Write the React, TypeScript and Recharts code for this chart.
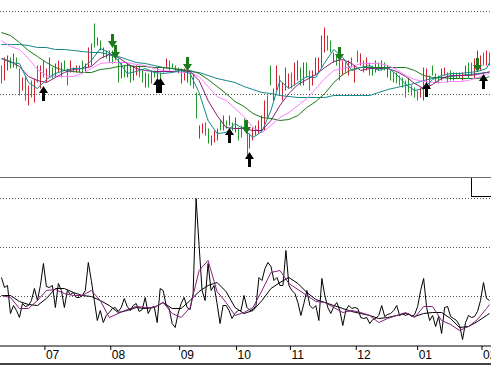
import { ComposedChart, Bar, Line, Scatter, XAxis, YAxis, ReferenceLine } from "recharts";

// daily bars (high / low), "r" = up day, "g" = down day
const barHi = [
  135, 143, 145, 143, 147, 143, 132, 123, 125, 115,
  120, 122, 135, 135, 140, 132, 143, 133, 137, 140,
  138, 140, 132, 140, 133, 135, 135, 140, 137, 153,
  157, 177, 163, 160, 153, 150, 150, 150, 148, 142,
  138, 135, 137, 135, 135, 135, 135, 130, 128, 127,
  130, 130, 133, 128, 133, 142, 140, 137, 135, 133,
  132, 132, 130, 128, 127, 108, 75, 77, 78, 72,
  65, 70, 72, 80, 85, 80, 85, 78, 83, 73,
  75, 82, 70, 67, 73, 75, 80, 85, 100, 105,
  135, 112, 135, 125, 118, 133, 127, 128, 138, 140,
  133, 138, 138, 130, 130, 143, 143, 165, 173, 165,
  160, 148, 145, 140, 140, 138, 140, 143, 135, 150,
  147, 140, 143, 138, 135, 140, 138, 140, 138, 135,
  130, 128, 128, 125, 123, 120, 123, 115, 113, 110,
  113, 133, 132, 125, 135, 127, 125, 132, 133, 128,
  130, 128, 128, 128, 128, 135, 138, 138, 142, 150,
  145, 148, 150, 148,
];
const barLo = [
  117, 120, 130, 132, 133, 132, 105, 110, 100, 95,
  103, 98, 118, 112, 123, 118, 123, 122, 123, 128,
  123, 130, 115, 128, 128, 128, 128, 128, 128, 133,
  135, 153, 155, 150, 143, 142, 138, 137, 140, 118,
  122, 123, 123, 118, 120, 125, 123, 118, 113, 113,
  117, 123, 122, 117, 128, 132, 130, 132, 130, 127,
  117, 120, 118, 115, 112, 82, 62, 67, 65, 57,
  55, 58, 60, 70, 70, 72, 75, 70, 68, 60,
  63, 72, 43, 52, 60, 65, 67, 70, 70, 82,
  115, 100, 110, 105, 100, 110, 112, 112, 115, 120,
  115, 115, 123, 110, 115, 125, 128, 133, 148, 150,
  148, 138, 135, 120, 125, 128, 125, 133, 118, 138,
  135, 128, 130, 125, 125, 128, 130, 130, 130, 123,
  120, 118, 117, 115, 113, 103, 108, 105, 103, 100,
  103, 100, 110, 112, 125, 118, 117, 120, 125, 118,
  120, 120, 122, 122, 120, 125, 122, 125, 122, 138,
  130, 135, 135, 135,
];
const barDir = (
  "grrgrggrgr" + "grgrgrrgrr" + "rggrgrrgrr" + "rgrgggrggg" + "rgrgrrggrg" +
  "rgrgrrgggg" + "rrrgggrrgg" + "rrrgrgrgrg" + "gggrrrrrrg" + "grrgrrrgrr" +
  "grggrrrrrg" + "grggrgrgrg" + "rgrggrgrgr" + "gggggggggg" + "rrrggggrrg" +
  "grgrrrggrr" + "rgrg"
).split("");

// moving averages, read every 3rd bar (last point = last bar)
const maIdx = Array.from({ length: 55 }, (_, k) => k * 3).concat([163]);
const maFast = [
  142, 138, 137, 118, 112, 121, 127, 130, 132, 132, 140, 152, 148, 140, 127, 129, 132, 128, 127, 128,
  130, 127, 108, 80, 67, 68, 77, 71, 63, 69, 90, 120, 112, 118, 124, 123, 138, 151, 143, 130,
  133, 135, 130, 133, 126, 116, 110, 112, 121, 125, 127, 127, 128, 129, 132, 138,
];
const maMid = [
  142, 139, 134, 124, 120, 118, 123, 128, 131, 132, 134, 142, 146, 143, 137, 132, 130, 129, 129, 129,
  130, 129, 120, 100, 85, 73, 72, 72, 70, 70, 80, 95, 107, 116, 121, 126, 133, 139, 141, 137,
  130, 132, 132, 132, 129, 124, 117, 112, 116, 122, 125, 125, 125, 126, 128, 129,
];
const maPink = [
  160, 154, 151, 142, 131, 125, 124, 124, 124, 127, 132, 137, 138, 138, 138, 136, 135, 132, 130, 129,
  128, 128, 124, 114, 104, 100, 92, 84, 73, 68, 75, 83, 88, 95, 102, 112, 122, 130, 132, 134,
  137, 137, 137, 135, 131, 125, 121, 119, 118, 118, 119, 119, 120, 123, 126, 127,
];
const maGreen = [
  168, 165, 158, 150, 144, 138, 133, 130, 129, 128, 128, 131, 132, 134, 135, 134, 134, 133, 133, 132,
  131, 130, 127, 121, 114, 107, 99, 94, 87, 83, 82, 80, 81, 85, 93, 99, 107, 118, 126, 131,
  133, 133, 133, 133, 133, 133, 130, 125, 123, 123, 122, 122, 122, 122, 123, 124,
];
const maSlow = [
  156, 156, 156, 155, 153, 153, 151, 151, 150, 149, 148, 148, 146, 144, 141, 138, 137, 135, 133, 132,
  130, 129, 128, 125, 122, 120, 118, 114, 111, 108, 107, 105, 104, 103, 103, 103, 103, 105, 105, 105,
  105, 105, 108, 111, 113, 115, 117, 120, 122, 123, 124, 125, 126, 127, 128, 128,
];

// signals: buy arrows under bars, sell arrows over bars
const buySignals = [
  { i: 14, v: 115 }, { i: 52, v: 123 }, { i: 53, v: 123 }, { i: 76, v: 73 },
  { i: 83, v: 49 }, { i: 142, v: 119 }, { i: 161, v: 127 },
];
const sellSignals = [
  { i: 37, v: 153 }, { i: 38, v: 142 }, { i: 62, v: 130 }, { i: 82, v: 67 },
  { i: 113, v: 139 }, { i: 159, v: 128 },
];

// lower indicator panel
const volDaily = [
  69, 59, 61, 33, 41, 36, 29, 43, 40, 41,
  46, 58, 46, 61, 83, 60, 59, 61, 39, 63,
  56, 39, 56, 52, 54, 49, 49, 51, 56, 84,
  66, 46, 26, 36, 24, 31, 34, 38, 39, 35,
  39, 48, 40, 36, 41, 43, 35, 37, 49, 33,
  39, 40, 24, 58, 56, 41, 38, 23, 19, 33,
  43, 49, 39, 37, 53, 148, 101, 56, 46, 83,
  56, 61, 43, 23, 41, 41, 36, 28, 33, 36,
  36, 51, 39, 36, 37, 41, 69, 66, 78, 84,
  80, 66, 69, 61, 61, 96, 61, 56, 53, 44,
  31, 43, 56, 41, 38, 41, 26, 68, 51, 39,
  33, 40, 44, 36, 21, 36, 41, 38, 39, 38,
  29, 28, 29, 23, 27, 28, 31, 41, 30, 32,
  33, 36, 41, 31, 33, 31, 33, 30, 32, 40,
  56, 68, 39, 26, 31, 20, 30, 13, 39, 40,
  30, 28, 26, 21, 7, 24, 31, 29, 30, 35,
  46, 64, 48, 46,
];
const volAvgBlack = [
  51, 51, 45, 42, 41, 48, 58, 58, 54, 51, 50, 46, 41, 34, 36, 39, 38, 39, 44, 38,
  38, 46, 55, 61, 64, 55, 39, 33, 36, 46, 58, 64, 69, 63, 54, 47, 44, 41, 38, 35,
  33, 31, 28, 29, 31, 33, 30, 33, 34, 34, 28, 19, 20, 25, 31, 33,
];
const volAvgPurple = [
  51, 49, 38, 38, 46, 56, 57, 53, 51, 51, 56, 46, 29, 33, 37, 40, 39, 39, 44, 33,
  29, 39, 76, 86, 55, 44, 31, 34, 39, 56, 74, 76, 63, 57, 51, 45, 44, 39, 34, 36,
  34, 31, 24, 28, 31, 34, 29, 40, 40, 26, 22, 16, 20, 27, 38, 42,
];

const monthTicks = [14.5, 36.5, 59.5, 78.5, 96.5, 118.5, 139, 160.5];
const monthLabels = ["07", "08", "09", "10", "11", "12", "01", "02"];

const RED = "#d2202e";
const GREEN = "#22992a";

const rows = barHi.map((hi, i) => ({
  i,
  range: [barLo[i], hi],
  up: barDir[i] === "r",
  vol: volDaily[i],
}));

const maRows = maIdx.map((i, k) => ({
  i,
  fast: maFast[k],
  mid: maMid[k],
  pink: maPink[k],
  green: maGreen[k],
  slow: maSlow[k],
  avgK: volAvgBlack[k],
  avgP: volAvgPurple[k],
}));

const BarLine = (p: any) => {
  const top = Math.min(p.y, p.y + p.height);
  return (
    <rect
      x={Math.round(p.x + p.width / 2 - 0.5)}
      y={top}
      width={1}
      height={Math.abs(p.height)}
      fill={p.payload.up ? RED : GREEN}
    />
  );
};

const BuyArrow = (p: any) => {
  const x = Math.round(p.cx - 0.5) + 0.5;
  const y = Math.round(p.cy);
  return (
    <path
      d={`M${x},${y} L${x + 4.5},${y + 7} L${x + 1.5},${y + 7} L${x + 1.5},${y + 15} L${x - 1.5},${y + 15} L${x - 1.5},${y + 7} L${x - 4.5},${y + 7} Z`}
      fill="#000"
    />
  );
};

const SellArrow = (p: any) => {
  const x = Math.round(p.cx - 0.5) + 0.5;
  const y = Math.round(p.cy);
  return (
    <path
      d={`M${x},${y} L${x + 4.5},${y - 7} L${x + 1.5},${y - 7} L${x + 1.5},${y - 14} L${x - 1.5},${y - 14} L${x - 1.5},${y - 7} L${x - 4.5},${y - 7} Z`}
      fill="#1b7a1b"
    />
  );
};

const MonthTick = (p: any) => {
  const k = monthTicks.indexOf(p.payload.value);
  return (
    <text x={p.x + 1} y={p.y + 9} fontSize={12} fontFamily="'Liberation Sans', Arial, sans-serif" fill="#000">
      {monthLabels[k]}
    </text>
  );
};

const dotted = { stroke: "#555", strokeDasharray: "1 2" };

export default function App() {
  return (
    <div style={{ position: "absolute", left: 0, top: 0, width: 491, height: 367, background: "#fff", overflow: "hidden" }}>
      <div style={{ position: "absolute", left: 0, top: 0 }}>
        <ComposedChart width={491} height={177} data={rows} margin={{ top: 0, right: 0, bottom: 0, left: 0 }}>
          <XAxis dataKey="i" type="number" domain={[-0.5, 163.5]} allowDataOverflow hide />
          <YAxis type="number" domain={[23.5, 200.5]} allowDataOverflow hide />
          <ReferenceLine y={189} {...dotted} />
          <ReferenceLine y={106} {...dotted} />
          <Bar dataKey="range" barSize={1} shape={BarLine} isAnimationActive={false} />
          <Line data={maRows} dataKey="slow" stroke="#138a8a" dot={false} activeDot={false} isAnimationActive={false} />
          <Line data={maRows} dataKey="green" stroke="#1b7a1b" dot={false} activeDot={false} isAnimationActive={false} />
          <Line data={maRows} dataKey="pink" stroke="#ff80ff" dot={false} activeDot={false} isAnimationActive={false} />
          <Line data={maRows} dataKey="mid" stroke="#8a1e78" dot={false} activeDot={false} isAnimationActive={false} />
          <Line data={maRows} dataKey="fast" stroke="#138a8a" dot={false} activeDot={false} isAnimationActive={false} />
          <Scatter data={buySignals} dataKey="v" shape={BuyArrow} isAnimationActive={false} />
          <Scatter data={sellSignals} dataKey="v" shape={SellArrow} isAnimationActive={false} />
        </ComposedChart>
      </div>
      <div style={{ position: "absolute", left: 0, top: 177 }}>
        <ComposedChart width={491} height={190} data={rows} margin={{ top: 1, right: 0, bottom: 0, left: 0 }}>
          <XAxis
            dataKey="i"
            type="number"
            domain={[-0.5, 163.5]}
            allowDataOverflow
            ticks={monthTicks}
            interval={0}
            height={21}
            tickSize={4}
            tickMargin={0}
            axisLine={{ stroke: "#000" }}
            tickLine={{ stroke: "#000" }}
            tick={MonthTick}
          />
          <YAxis type="number" domain={[0.5, 168.5]} allowDataOverflow hide />
          <ReferenceLine y={148} {...dotted} />
          <ReferenceLine y={99} {...dotted} />
          <ReferenceLine y={50} {...dotted} />
          <Line dataKey="vol" stroke="#000" dot={false} activeDot={false} isAnimationActive={false} />
          <Line data={maRows} dataKey="avgK" stroke="#000" dot={false} activeDot={false} isAnimationActive={false} />
          <Line data={maRows} dataKey="avgP" stroke="#84207c" dot={false} activeDot={false} isAnimationActive={false} />
        </ComposedChart>
      </div>
      <div style={{ position: "absolute", left: 0, top: 177, width: 491, height: 1, background: "#6e6e6e" }} />
      <div style={{ position: "absolute", left: 471, top: 178, width: 20, height: 18, borderLeft: "1px solid #000", borderBottom: "1px solid #000" }} />
      <div style={{ position: "absolute", left: 0, top: 363, width: 491, height: 2, background: "#444" }} />
    </div>
  );
}
